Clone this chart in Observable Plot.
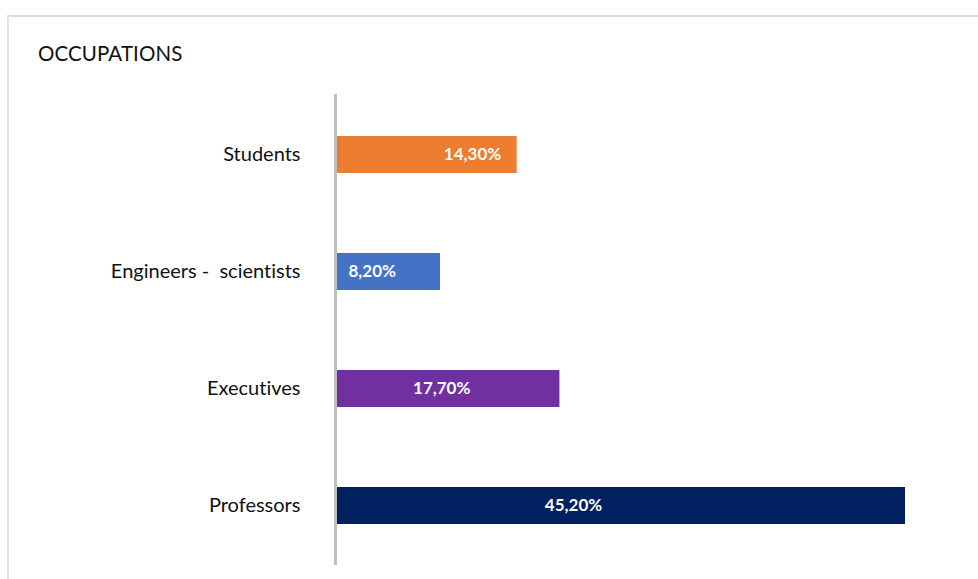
<!DOCTYPE html>
<html>
<head>
<meta charset="utf-8">
<script src="https://cdn.jsdelivr.net/npm/d3@7"></script>
<script src="https://cdn.jsdelivr.net/npm/@observablehq/plot@0.6"></script>
<style>
  html, body { margin: 0; padding: 0; background: #fff; }
  #wrap { position: relative; width: 978px; height: 579px; overflow: hidden; font-family: Lato, "Open Sans", sans-serif; font-variant-ligatures: none; }
  #frame { position: absolute; left: 7px; top: 15px; width: 975px; height: 570px; border-top: 2px solid #dcdcdc; border-left: 2px solid #e4e4e4; }
  #title { position: absolute; left: 38px; top: 41px; font-size: 20.5px; line-height: 24px; color: #111; letter-spacing: 0.1px; }
  #chart { position: absolute; left: 0; top: 0; }
  #chart svg text { white-space: pre; font-variant-ligatures: none; }
</style>
</head>
<body>
<div id="wrap">
  <div id="frame"></div>
  <div id="title">OCCUPATIONS</div>
  <div id="chart"></div>
</div>
<script>
const categories = ["Students", "Engineers -  scientists", "Executives", "Professors"];
const values = [14.3, 8.2, 17.7, 45.2];
const labels = ["14,30%", "8,20%", "17,70%", "45,20%"];
const colors = ["#ED7D31", "#4472C4", "#7030A0", "#002060"];

const data = categories.map((c, i) => ({category: c, value: values[i], label: labels[i], color: colors[i]}));

const byCat = c => data.filter(d => d.category === c);
const labelFont = {fill: "#fbfbfb", fontWeight: "bold", fontSize: 17, fontFamily: "Lato, 'Open Sans', sans-serif"};

const chart = Plot.plot({
  width: 978,
  height: 579,
  marginLeft: 337,
  marginRight: 73,
  marginTop: 94,
  marginBottom: 14,
  style: {fontFamily: "Lato, 'Open Sans', sans-serif", background: "transparent", color: "#111"},
  x: {domain: [0, d3.max(values)], axis: null},
  y: {domain: categories, paddingInner: 0.685, paddingOuter: 0.35, label: null},
  marks: [
    Plot.barX(data, {x: "value", y: "category", fill: "color"}),
    Plot.ruleX([0], {stroke: "#bfbfbf", strokeWidth: 3, dx: -2}),
    Plot.axisY({tickSize: 0, tickPadding: 37, fontSize: 20, label: null, fill: "#111"}),
    Plot.text(byCat("Students"), {x: "value", y: "category", text: "label", textAnchor: "end", dx: -16, ...labelFont}),
    Plot.text(byCat("Engineers -  scientists"), {x: 0, y: "category", text: "label", textAnchor: "start", dx: 11, ...labelFont}),
    Plot.text(byCat("Executives"), {x: d => d.value / 2, y: "category", text: "label", textAnchor: "middle", dx: -7, ...labelFont}),
    Plot.text(byCat("Professors"), {x: d => d.value / 2, y: "category", text: "label", textAnchor: "middle", dx: -48, ...labelFont})
  ]
});
document.getElementById("chart").appendChild(chart);
</script>
</body>
</html>
